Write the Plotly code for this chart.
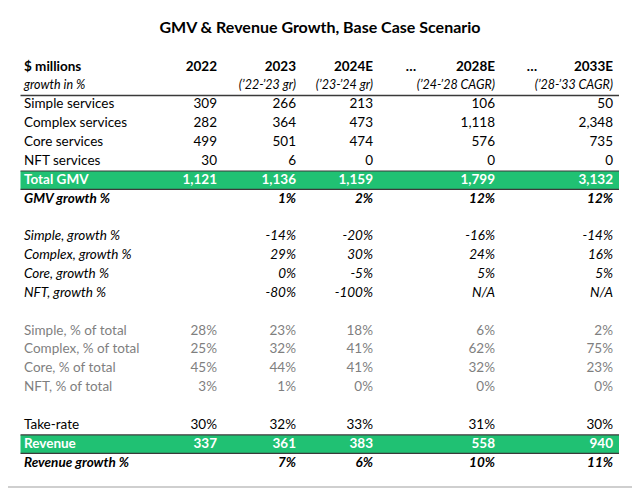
import plotly.graph_objects as go

# ---------------- data ----------------
title = "GMV & Revenue Growth, Base Case Scenario"
columns = ["2022", "2023", "2024E", "2028E", "2033E"]
subheaders = ["", "(’22-’23 gr)", "(’23-’24 gr)", "(’24-’28 CAGR)", "(’28-’33 CAGR)"]
corner_label = "$ millions"
corner_sub = "growth in %"

gmv_labels = ["Simple services", "Complex services", "Core services", "NFT services"]
simple_gmv = [309, 266, 213, 106, 50]
complex_gmv = [282, 364, 473, 1118, 2348]
core_gmv = [499, 501, 474, 576, 735]
nft_gmv = [30, 6, 0, 0, 0]
total_gmv = [1121, 1136, 1159, 1799, 3132]
gmv_growth = [None, 1, 2, 12, 12]

growth_labels = ["Simple, growth %", "Complex, growth %", "Core, growth %", "NFT, growth %"]
simple_growth = [None, -14, -20, -16, -14]
complex_growth = [None, 29, 30, 24, 16]
core_growth = [None, 0, -5, 5, 5]
nft_growth = [None, -80, -100, "N/A", "N/A"]

share_labels = ["Simple, % of total", "Complex, % of total", "Core, % of total", "NFT, % of total"]
simple_share = [28, 23, 18, 6, 2]
complex_share = [25, 32, 41, 62, 75]
core_share = [45, 44, 41, 32, 23]
nft_share = [3, 1, 0, 0, 0]

take_rate = [30, 32, 33, 31, 30]
revenue = [337, 361, 383, 558, 940]
revenue_growth = [None, 7, 6, 10, 11]

# ---------------- layout constants ----------------
VIEW_W, VIEW_H = 640, 489
OFF = 8                      # default page margin of the html body
W, H = VIEW_W - OFF, VIEW_H - OFF
FONT = "Lato"
LABEL_X = 24
COL_X = [217, 296, 373, 495, 613]
DOTS_X = [411, 532]
TABLE_X0, TABLE_X1 = 20.5, 619
ROW0_PX, PITCH = 105, 18.85
GREEN = "#20C173"
GRAY = "#7F7F7F"
BODY = 13.5


def fmt_num(v):
    return "" if v is None else f"{v:,}"


def fmt_pct(v):
    if v is None:
        return ""
    if isinstance(v, str):
        return v
    return f"{v}%"


rows = []  # (row index, label, cells, style)
rows.append((-2, corner_label, columns, "header"))
rows.append((-1, corner_sub, subheaders, "sub"))
for i, (lab, vals) in enumerate(zip(gmv_labels, [simple_gmv, complex_gmv, core_gmv, nft_gmv])):
    rows.append((i, lab, [fmt_num(v) for v in vals], "plain"))
rows.append((4, "Total GMV", [fmt_num(v) for v in total_gmv], "green"))
rows.append((5, "GMV growth %", [fmt_pct(v) for v in gmv_growth], "bolditalic"))
for i, (lab, vals) in enumerate(zip(growth_labels, [simple_growth, complex_growth, core_growth, nft_growth])):
    rows.append((7 + i, lab, [fmt_pct(v) for v in vals], "italic"))
for i, (lab, vals) in enumerate(zip(share_labels, [simple_share, complex_share, core_share, nft_share])):
    rows.append((12 + i, lab, [fmt_pct(v) for v in vals], "gray"))
rows.append((17, "Take-rate", [fmt_pct(v) for v in take_rate], "plain"))
rows.append((18, "Revenue", [fmt_num(v) for v in revenue], "green"))
rows.append((19, "Revenue growth %", [fmt_pct(v) for v in revenue_growth], "bolditalic"))

styles = {
    "header": dict(color="black", size=BODY, weight="bold", style="normal"),
    "sub": dict(color="black", size=12.5, weight="normal", style="italic"),
    "plain": dict(color="black", size=BODY, weight="normal", style="normal"),
    "green": dict(color="white", size=BODY, weight="bold", style="normal"),
    "bolditalic": dict(color="black", size=BODY, weight="bold", style="italic"),
    "italic": dict(color="black", size=BODY, weight="normal", style="italic"),
    "gray": dict(color=GRAY, size=BODY, weight="normal", style="normal"),
}

fig = go.Figure()

# green bands and rules
for r, lab, cells, st in rows:
    if st == "green":
        fig.add_shape(type="rect", xref="x", yref="y", x0=TABLE_X0, x1=TABLE_X1,
                      y0=r - 0.5, y1=r + 0.48, fillcolor=GREEN, line_width=0, layer="below")
        for yy in (r - 0.5, r + 0.48):
            fig.add_shape(type="line", xref="x", yref="y", x0=TABLE_X0, x1=TABLE_X1,
                          y0=yy, y1=yy, line=dict(color="#3a3a3a", width=1.2))
# header underline
fig.add_shape(type="line", xref="x", yref="y", x0=TABLE_X0, x1=TABLE_X1,
              y0=-0.5, y1=-0.5, line=dict(color="#3a3a3a", width=1.5))
# bottom frame line (viewport y = 487)
fig.add_shape(type="line", xref="paper", yref="paper", x0=-0.02, x1=1,
              y0=1 - (487 - OFF) / H, y1=1 - (487 - OFF) / H,
              line=dict(color="#CFCFCF", width=2))

for r, lab, cells, st in rows:
    s = styles[st]
    tf = dict(family=FONT, color=s["color"], size=s["size"], weight=s["weight"], style=s["style"])
    fig.add_trace(go.Scatter(x=[LABEL_X], y=[r], mode="text", text=[lab],
                             textposition="middle right", textfont=tf,
                             hoverinfo="skip", showlegend=False))
    fig.add_trace(go.Scatter(x=COL_X, y=[r] * len(cells), mode="text", text=cells,
                             textposition="middle left", textfont=tf,
                             hoverinfo="skip", showlegend=False))

# ellipsis columns
fig.add_trace(go.Scatter(x=DOTS_X, y=[-2, -2], mode="text", text=["…", "…"],
                         textposition="middle center",
                         textfont=dict(family=FONT, color="black", size=BODY, weight="bold"),
                         hoverinfo="skip", showlegend=False))

# axis ranges so data coordinates equal viewport pixels / row indices
y_top = (OFF - ROW0_PX) / PITCH
y_bot = (VIEW_H - ROW0_PX) / PITCH

fig.update_layout(
    width=W, height=H,
    margin=dict(l=0, r=0, t=0, b=0),
    paper_bgcolor="white", plot_bgcolor="white",
    title=dict(text=title, x=(320 - OFF) / W, xanchor="center",
               y=1 - (27 - OFF) / H, yanchor="middle",
               font=dict(family=FONT, size=16, color="black", weight="bold")),
    xaxis=dict(range=[OFF, VIEW_W], visible=False, fixedrange=True),
    yaxis=dict(range=[y_bot, y_top], visible=False, fixedrange=True),
)

fig.write_html("out.html")
